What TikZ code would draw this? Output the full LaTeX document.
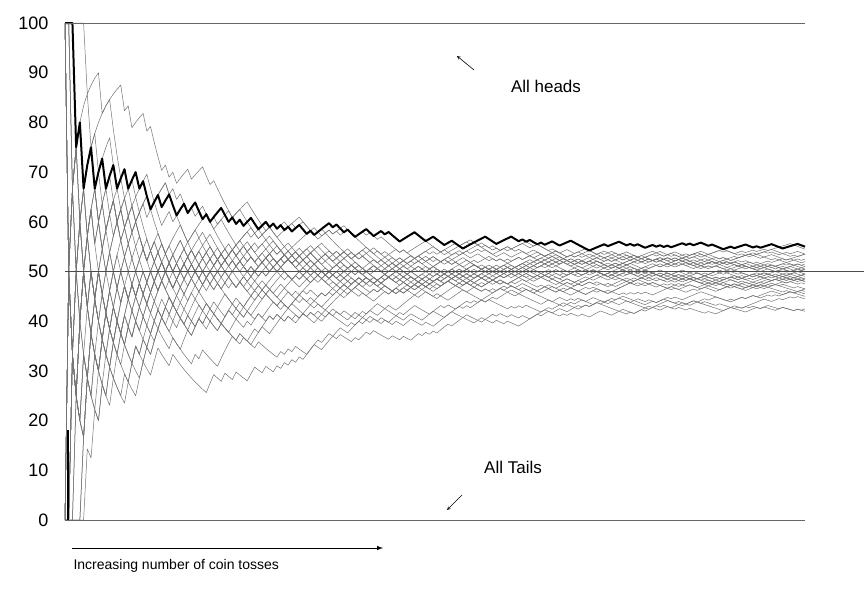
\documentclass[tikz,border=0pt]{standalone}
\usepackage{fontspec}
\setmainfont{Liberation Sans}
\begin{document}
\begin{tikzpicture}[x=1pt,y=-1pt,
  walk/.style={draw=black!55,line width=0.5pt,line join=round},
  boldwalk/.style={draw=black,line width=2pt,line join=round},
  tick/.style={anchor=east,font=\fontsize{18}{18}\selectfont},
  lbl/.style={font=\fontsize{17}{17}\selectfont},
  grid/.style={draw=black!60,line width=0.8pt}]
\useasboundingbox (0,0) rectangle (864,598);
\pgfmathsetseed{4711}
\foreach \w in {1,...,32}{
  \xdef\hh{0}\xdef\pts{}
  \foreach \n in {1,...,200}{
    \pgfmathsetmacro\r{rnd<0.5?1:0}
    \pgfmathsetmacro\hn{\hh+\r}\xdef\hh{\hn}
    \pgfmathsetmacro\xx{65+(\n-1)*3.7186}
    \pgfmathsetmacro\yy{520-497*(\hn/\n)}
    \xdef\pts{\pts(\xx,\yy)}
  }
  \draw[walk] plot coordinates {\pts};
}
\xdef\hh{0}\xdef\pts{}
\foreach \n in {1,...,200}{
  \pgfmathsetmacro\tg{0.55+0.2*exp(-\n/40)+0.03*rnd-0.015}
  \pgfmathsetmacro\r{\n<4?1:(((\hh+0.5)/\n<\tg)?1:0)}
  \pgfmathsetmacro\hn{\hh+\r}\xdef\hh{\hn}
  \pgfmathsetmacro\xx{65+(\n-1)*3.7186}
  \pgfmathsetmacro\yy{520-497*(\hn/\n)}
  \xdef\pts{\pts(\xx,\yy)}
}
\draw[boldwalk] plot coordinates {\pts};
\draw[black,line width=2pt] (68,520) -- (68,430);
\coordinate (t0) at (65,23); \coordinate (t1) at (805,23);
\coordinate (m0) at (65,271); \coordinate (m1) at (864,271);
\coordinate (b0) at (65,520); \coordinate (b1) at (805,520);
\draw[grid] (t0) -- (t1);
\draw[grid] (b0) -- (b1);
\draw[draw=black!70,line width=0.8pt] (m0) -- (m1);
\foreach \v in {0,10,...,100}{
  \node[tick] (l\v) at (52,{520-4.97*\v}) {\v};
}
\node[lbl] (heads) at (546,86) {All heads};
\node[lbl] (tails) at (513,467) {All Tails};
\coordinate (ha) at (474,70); \coordinate (hb) at (457,56);
\coordinate (ta) at (462,495); \coordinate (tb) at (447,510);
\draw[-stealth,line width=0.6pt] (ha) -- (hb);
\draw[-stealth,line width=0.6pt] (ta) -- (tb);
\coordinate (a0) at (72,548); \coordinate (a1) at (383,548);
\draw[-latex,line width=1pt] (a0) -- (a1);
\node[anchor=west,font=\fontsize{14}{14}\selectfont] (cap) at (70,566) {Increasing number of coin tosses};
\end{tikzpicture}
\end{document}
